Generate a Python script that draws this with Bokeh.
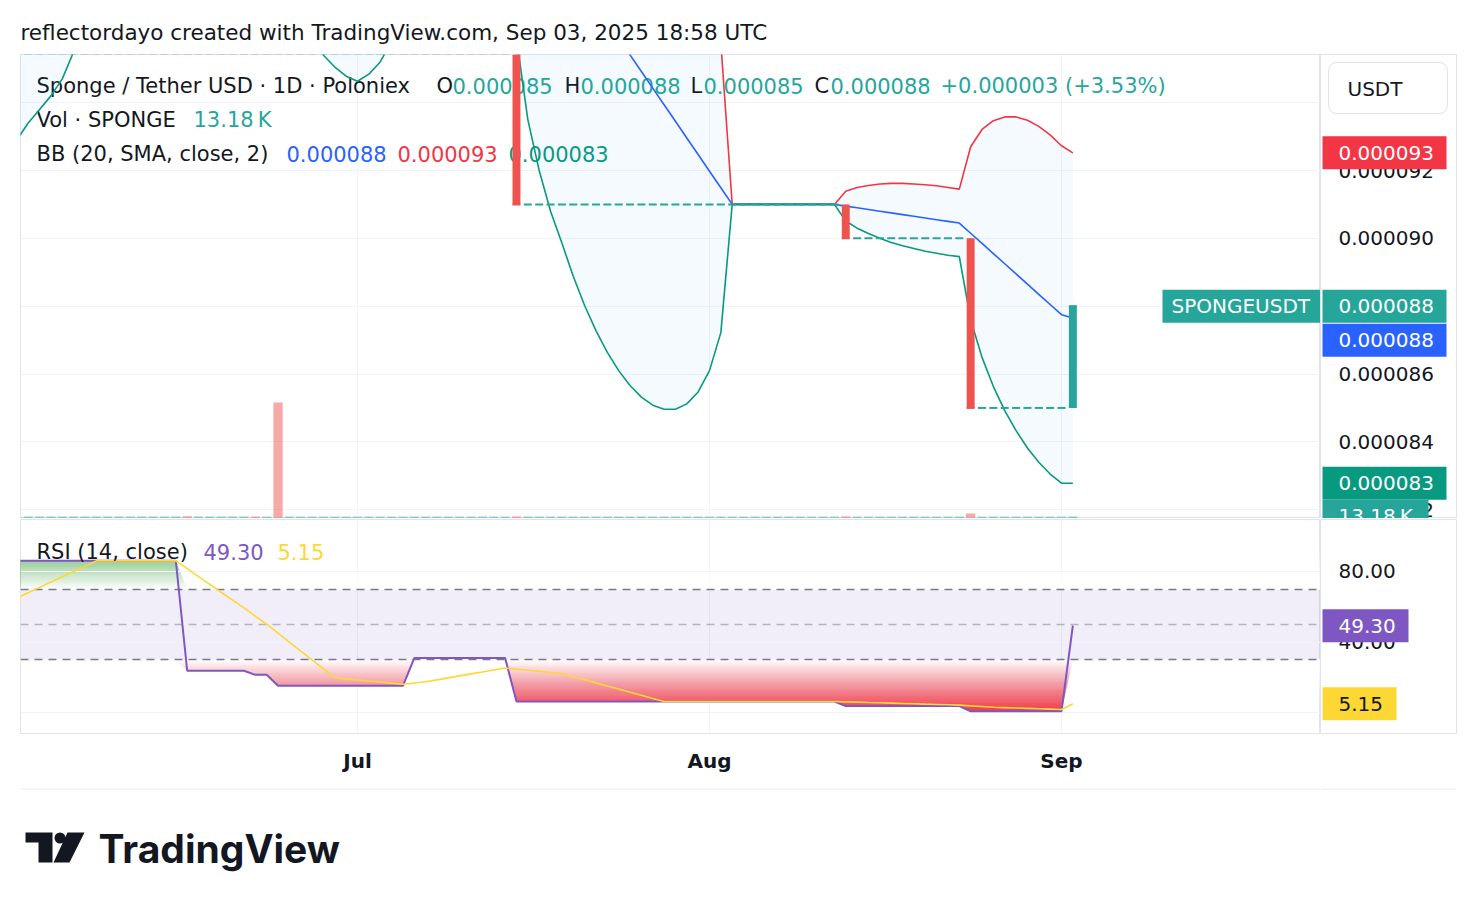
import numpy as np
import pandas as pd
from bokeh.plotting import figure
from bokeh.layouts import gridplot
from bokeh.models import (Range1d, FixedTicker, Label, ColumnDataSource,
                          DatetimeTickFormatter, Grid)
from bokeh.embed import file_html
from bokeh.resources import INLINE
from bokeh.core.properties import value

# ---------------------------------------------------------------- data
start_date = "2025-06-01"            # first daily bar
month_ticks = ["2025-07-01", "2025-08-01", "2025-09-01"]
price_ticks_e6 = [82, 84, 86, 88, 90, 92, 94]
rsi_ticks = [0, 40, 80]

# daily OHLC in units of 1e-6 USDT (bars before Jul 15 lie above the visible range)
open_e6 = [115.0]*16 + [105.0]*6 + [104.0]*2 + [100.3]*12 + [101.3]*9 + [91.0]*29 + [90.0]*11 + [85.0]*9
high_e6 = [115.0]*16 + [105.0]*6 + [104.0]*2 + [100.3]*11 + [101.3]*10 + [91.0]*29 + [90.0]*11 + [85.0]*8 + [88.0]
low_e6 = [115.0]*15 + [105.0]*6 + [104.0]*2 + [100.3]*13 + [101.3]*8 + [91.0]*29 + [90.0]*11 + [85.0]*10
close_e6 = [115.0]*15 + [105.0]*6 + [104.0]*2 + [100.3]*12 + [101.3]*9 + [91.0]*29 + [90.0]*11 + [85.0]*9 + [88.0]

# daily volume (SPONGE)
volume = ([12500]*15 + [14000] + [12500]*5 + [13000] + [12500] + [760000] + [12500]*20 + [14000]
          + [12500]*28 + [14000] + [12500]*10 + [33000] + [12500]*8 + [13180])

# Bollinger Bands (20, SMA, close, 2), units of 1e-6
bb_upper_e6 = [119.1, 121.0, 122.8, 124.4, 125.7, 126.5, 127.0, 127.2, 127.2, 126.9, 126.2, 125.1, 123.8, 122.0, 120.0,
               121.0, 121.5, 121.7, 121.7, 121.6, 121.4, 121.4, 121.2, 121.2, 120.7, 119.9, 119.9, 119.0, 117.95, 116.8,
               115.4, 113.8, 111.9, 109.8, 107.0, 105.8, 104.9, 104.2, 103.5, 102.9, 102.5, 102.2, 102.0, 101.8, 104.7,
               105.70, 106.33, 106.68, 106.84, 106.84, 106.72, 106.48, 106.14, 105.70, 105.16, 104.52, 103.78, 102.92,
               101.94, 100.80, 99.47, 97.86, 95.76, 91.0,
               91.0, 91.0, 91.0, 91.0, 91.0, 91.0, 91.0, 91.0, 91.0,
               91.39, 91.50, 91.56, 91.60, 91.62, 91.62, 91.60, 91.58, 91.55, 91.50, 91.45,
               92.70, 93.21, 93.47, 93.58, 93.58, 93.48, 93.30, 93.05, 92.73, 92.52]
bb_basis_e6 = [106.0, 107.2, 108.3, 109.3, 110.2, 111.0, 111.8, 112.5, 113.1, 113.6, 114.0, 114.3, 114.6, 114.8, 115.0,
               114.5, 114.0, 113.5, 113.0, 112.5, 112.0, 111.45, 110.9, 110.2, 109.5, 108.7, 107.96, 107.2, 106.5, 105.8,
               105.0, 104.3, 103.55, 102.8, 102.1, 101.85, 101.6, 101.4, 101.2, 101.05, 100.95, 100.9, 100.85, 100.8, 100.31,
               99.82, 99.33, 98.84, 98.35, 97.86, 97.37, 96.88, 96.39, 95.90, 95.41, 94.92, 94.43, 93.94, 93.45, 92.96,
               92.47, 91.98, 91.49, 91.0,
               91.0, 91.0, 91.0, 91.0, 91.0, 91.0, 91.0, 91.0, 91.0,
               90.95, 90.90, 90.85, 90.80, 90.75, 90.70, 90.65, 90.60, 90.55, 90.50, 90.45,
               90.15, 89.85, 89.55, 89.25, 88.95, 88.65, 88.35, 88.05, 87.75, 87.65]
bb_lower_e6 = [92.9, 93.4, 93.8, 94.2, 94.7, 95.5, 96.6, 97.8, 99.0, 100.3, 101.8, 103.5, 105.4, 107.6, 110.0,
               108.0, 106.5, 105.3, 104.3, 103.4, 102.6, 101.5, 100.6, 99.2, 98.3, 97.5, 96.0, 95.4, 95.05, 94.78,
               94.63, 94.84, 95.2, 95.8, 97.2, 97.9, 98.3, 98.6, 98.9, 99.2, 99.4, 99.6, 99.7, 99.8, 95.9,
               93.5, 92.0, 90.8, 89.86, 88.88, 88.02, 87.28, 86.64, 86.10, 85.66, 85.32, 85.08, 84.96, 84.96, 85.12,
               85.47, 86.10, 87.22, 91.0,
               91.0, 91.0, 91.0, 91.0, 91.0, 91.0, 91.0, 91.0, 91.0,
               90.51, 90.30, 90.14, 90.00, 89.88, 89.78, 89.70, 89.62, 89.56, 89.50, 89.46,
               87.60, 86.49, 85.63, 84.92, 84.33, 83.82, 83.40, 83.05, 82.78, 82.78]

# RSI (14, close) and its 14-bar moving average
rsi = [86.0]*15 + [23.8]*6 + [21.5]*2 + [15.3]*12 + [31.0]*9 + [6.4]*29 + [3.8]*11 + [0.84]*9 + [49.30]
rsi_ma = ([65.0, 68.0, 71.0, 74.0, 77.0, 80.0, 83.0] + [86.0]*8 +
          [81.56, 77.11, 72.67, 68.23, 63.79, 59.34, 54.74, 50.13, 45.08, 40.03, 34.98, 29.93, 24.88, 19.83,
           19.22, 18.61, 18.01, 17.40, 16.79, 16.19, 16.86, 17.54, 18.66, 19.79, 20.91, 22.03, 23.15, 24.27,
           25.39, 24.76, 24.12, 23.49, 22.85, 22.21, 20.46, 18.70, 16.94, 15.19, 13.43, 11.67, 9.91, 8.16]
          + [6.4]*16 +
          [6.21, 6.03, 5.84, 5.66, 5.47, 5.29, 5.10, 4.91, 4.73, 4.54, 4.36, 3.96, 3.56, 3.17, 2.95, 2.74,
           2.53, 2.32, 2.11, 1.90, 5.15])

# ---------------------------------------------------------------- styles
FONT = "DejaVu Sans"
DARK = "#131722"
UP, DOWN = "#26A69A", "#EF5350"
GRID_C, BORDER = "#F0F3FA", "#E0E3EB"
DAY_MS = 86400000
Y1_BOT, Y1_TOP = 81.74e-6, 95.42e-6      # visible price range
PANE1_PX = 464                            # price pane height in px
TAG_H = 33

E6 = 1e-6
dates = pd.date_range(start_date, periods=len(close_e6), freq="D")
o = np.array(open_e6) * E6
h = np.array(high_e6) * E6
l = np.array(low_e6) * E6
c = np.array(close_e6) * E6
up = c >= o
bb_u = np.array(bb_upper_e6) * E6
bb_m = np.array(bb_basis_e6) * E6
bb_l = np.array(bb_lower_e6) * E6
rsi_a = np.array(rsi)
month_ms = [pd.Timestamp(t).value // 10**6 for t in month_ticks]
fmt = lambda v: f"{v:.6f}"

x0 = pd.Timestamp(start_date)
xr = Range1d(start=x0 + pd.Timedelta(days=0.32), end=x0 + pd.Timedelta(days=114.81))

src = ColumnDataSource(dict(
    x=dates, top=np.maximum(o, c), bottom=np.minimum(o, c), high=h, low=l, close=c,
    color=[UP if u else DOWN for u in up], vol=volume))


def base_fig(width, height, **kw):
    f = figure(width=width, height=height, toolbar_location=None, output_backend="svg",
               background_fill_color="white", border_fill_color="white", **kw)
    return f


def add_text(fig, fb, X, Y, text, color=DARK, size="21px", level="underlay"):
    fig.add_layout(Label(x=X - 20, y=fb - Y, x_units="screen", y_units="screen", text=text,
                         text_color=color, text_font=FONT, text_font_size=size,
                         text_baseline="middle", text_align="left", level=level))


def scale_text(fig, ys, texts, **kw):
    fig.text(x=[18] * len(ys), y=ys, text=texts, text_font=value(FONT), text_font_size="20px",
             text_baseline="middle", text_align="left", text_color=DARK, **kw)


def scale_tag(fig, yv, text, bg, fg="white", right=126, y_range_name="default"):
    fig.rect(x=[(2 + right) / 2], y=[yv], width=right - 2, height=TAG_H, height_units="screen",
             fill_color=bg, line_color=None, y_range_name=y_range_name)
    fig.text(x=[18], y=[yv], text=[text], text_font=value(FONT), text_font_size="20px",
             text_baseline="middle", text_align="left", text_color=fg, y_range_name=y_range_name)


# ---------------------------------------------------------------- price pane
p1 = base_fig(1320, 518, x_range=xr, y_range=Range1d(Y1_BOT, Y1_TOP), x_axis_type="datetime",
              x_axis_location=None, y_axis_location=None,
              min_border_left=20, min_border_right=0, min_border_top=54, min_border_bottom=0)
p1.outline_line_color = BORDER
for g in list(p1.xgrid) + list(p1.ygrid):
    g.visible = False
p1.add_layout(Grid(dimension=0, ticker=FixedTicker(ticks=month_ms), grid_line_color=GRID_C))
p1.add_layout(Grid(dimension=1, ticker=FixedTicker(ticks=[t * E6 for t in price_ticks_e6]),
                   grid_line_color=GRID_C))
p1.title.text = "reflectordayo created with TradingView.com, Sep 03, 2025 18:58 UTC"
p1.title.align = "left"
p1.title.text_font = FONT
p1.title.text_font_size = "21.5px"
p1.title.text_font_style = "normal"
p1.title.text_color = DARK
p1.title.standoff = 19

vol_range = Range1d(0, max(volume) * 4.0)
p1.extra_y_ranges = {"vol": vol_range}
p1.extra_x_ranges = {"px": Range1d(20, 1320)}
p1.vbar(x="x", top="vol", bottom=0, width=0.82 * DAY_MS, source=src, y_range_name="vol",
        fill_color="color", fill_alpha=0.5, line_color=None)

p1.varea(x=dates, y1=bb_l, y2=bb_u, fill_color="#2196F3", fill_alpha=0.05)
p1.line(dates, bb_u, line_color="#F23645", line_width=1.6)
p1.line(dates, bb_m, line_color="#2962FF", line_width=1.6)
p1.line(dates, bb_l, line_color="#089981", line_width=1.6)

p1.segment(x0="x", y0="high", x1="x", y1="low", source=src, line_color="color", line_width=1)
p1.vbar(x="x", top="top", bottom="bottom", width=0.7 * DAY_MS, source=src,
        fill_color="color", line_color=None)
p1.scatter(x="x", y="close", source=src, marker="dash", size=8, line_color="color", line_width=2)

# symbol tag at the last price
p1.rect(x=[1241], y=[c[-1]], width=158, height=TAG_H, height_units="screen", fill_color=UP,
        line_color=None, x_range_name="px")
p1.text(x=[1171], y=[c[-1]], text=["SPONGEUSDT"], text_font=value(FONT), text_font_size="20px",
        text_baseline="middle", text_color="white", x_range_name="px")

FB1 = 518
add_text(p1, FB1, 36, 85, "Sponge / Tether USD \u00b7 1D \u00b7 Poloniex")
for lx, letter, vx, val in [(436, "O", 452, o[-1]), (564, "H", 580, h[-1]),
                            (690, "L", 703, l[-1]), (814, "C", 830, c[-1])]:
    add_text(p1, FB1, lx, 85, letter)
    add_text(p1, FB1, vx, 85, fmt(val), color=UP)
chg = c[-1] - o[-1]
add_text(p1, FB1, 940, 85, f"+{chg:.6f} (+{chg / o[-1] * 100:.2f}%)", color=UP)
add_text(p1, FB1, 36, 119, "Vol \u00b7 SPONGE")
add_text(p1, FB1, 193, 119, f"{volume[-1] / 1000:.2f}\u2009K", color=UP)
add_text(p1, FB1, 36, 153, "BB (20, SMA, close, 2)")
add_text(p1, FB1, 286, 153, fmt(bb_m[-1]), color="#2962FF")
add_text(p1, FB1, 397, 153, fmt(bb_u[-1]), color="#F23645")
add_text(p1, FB1, 508, 153, fmt(bb_l[-1]), color="#089981")

# price scale
p1a = base_fig(156, 518, x_range=Range1d(0, 136), y_range=p1.y_range,
               x_axis_location=None, y_axis_location=None,
               min_border_left=0, min_border_right=20, min_border_top=54, min_border_bottom=0)
p1a.outline_line_color = BORDER
p1a.grid.visible = False
p1a.extra_y_ranges = {"vol": vol_range, "px": Range1d(518, 54)}
scale_text(p1a, [t * E6 for t in price_ticks_e6], [fmt(t * E6) for t in price_ticks_e6])
p1a.quad(left=[8], right=[127], top=[62], bottom=[113], y_range_name="px", fill_color="white",
         line_color=BORDER, border_radius=8)
p1a.text(x=[27], y=[88], text=["USDT"], text_font=value(FONT), text_font_size="20px",
         text_baseline="middle", text_color=DARK, y_range_name="px")
px_per_unit = PANE1_PX / (Y1_TOP - Y1_BOT)
scale_tag(p1a, bb_u[-1], fmt(bb_u[-1]), "#F23645")
scale_tag(p1a, c[-1], fmt(c[-1]), UP)
scale_tag(p1a, c[-1] - (TAG_H + 1) / px_per_unit, fmt(bb_m[-1]), "#2962FF")
scale_tag(p1a, bb_l[-1], fmt(bb_l[-1]), "#089981")
scale_tag(p1a, volume[-1], f"{volume[-1] / 1000:.2f}\u2009K", UP, right=108, y_range_name="vol")

# ---------------------------------------------------------------- RSI pane
p2 = base_fig(1320, 270, x_range=xr, y_range=Range1d(-11.7, 109.4), x_axis_type="datetime",
              y_axis_location=None,
              min_border_left=20, min_border_right=0, min_border_top=1, min_border_bottom=55)
p2.outline_line_color = BORDER
for g in p2.ygrid:
    g.visible = False
p2.xaxis.ticker = FixedTicker(ticks=month_ms)
p2.xaxis.formatter = DatetimeTickFormatter(days="%b", months="%b", years="%b", hours="%b")
ax = p2.xaxis[0]
ax.axis_line_color = None
ax.major_tick_line_color = None
ax.minor_tick_line_color = None
ax.major_label_text_font = FONT
ax.major_label_text_font_size = "20px"
ax.major_label_text_font_style = "bold"
ax.major_label_text_color = DARK
ax.major_label_standoff = 9
p2.xgrid.grid_line_color = GRID_C

p2.hstrip(y0=[30], y1=[70], fill_color="#7E57C2", fill_alpha=0.1, line_color=None)
# gradient fills: opaque fill, then white layers that fade it toward the 30 / 70 levels
p2.varea(x=dates, y1=np.minimum(rsi_a, 30), y2=30, fill_color="#F23645")
p2.varea(x=dates, y1=70, y2=np.maximum(rsi_a, 70), fill_color="#4CAF50")
prev = 0.0
for k in range(30):
    W = (k + 0.5) / 30
    w = 1 - (1 - W) / (1 - prev)
    p2.hstrip(y0=[k], y1=[30], fill_color="white", fill_alpha=w, line_color=None)
    p2.hstrip(y0=[70], y1=[100 - k], fill_color="white", fill_alpha=w, line_color=None)
    prev = W
p2.hspan(y=rsi_ticks, line_color=GRID_C, line_width=1)
p2.hspan(y=[70, 30], line_color="#787B86", line_width=1.5, line_dash="8 6")
p2.hspan(y=[50], line_color="#787B86", line_alpha=0.5, line_width=1.5, line_dash="8 6")

p2.line(dates, rsi, line_color="#7E57C2", line_width=2)
p2.line(dates, rsi_ma, line_color="#FDD835", line_width=1.6)

FB2 = 733
add_text(p2, FB2, 36, 551, "RSI (14, close)", level="overlay")
add_text(p2, FB2, 203, 551, f"{rsi[-1]:.2f}", color="#7E57C2", level="overlay")
add_text(p2, FB2, 277, 551, f"{rsi_ma[-1]:.2f}", color="#FDD835", level="overlay")

p2a = base_fig(156, 270, x_range=Range1d(0, 136), y_range=p2.y_range,
               x_axis_location=None, y_axis_location=None,
               min_border_left=0, min_border_right=20, min_border_top=1, min_border_bottom=55)
p2a.outline_line_color = BORDER
p2a.grid.visible = False
scale_text(p2a, rsi_ticks, [f"{t:.2f}" for t in rsi_ticks])
scale_tag(p2a, rsi[-1], f"{rsi[-1]:.2f}", "#7E57C2", right=88)
scale_tag(p2a, rsi_ma[-1], f"{rsi_ma[-1]:.2f}", "#FDD835", fg=DARK, right=76)

# ---------------------------------------------------------------- footer / logo
LOGO_BAR = ([25, 52, 52, 38, 38, 25], [44, 44, 74, 74, 54, 54])
LOGO_SLASH = ([67, 84, 69, 53], [44, 44, 74, 74])
p3 = base_fig(1320, 120, x_range=Range1d(20, 1320), y_range=Range1d(120, 0),
              x_axis_location=None, y_axis_location=None,
              min_border_left=20, min_border_right=0, min_border_top=0, min_border_bottom=0)
p3.outline_line_color = None
p3.grid.visible = False
p3.segment(x0=[20], y0=[0.5], x1=[1320], y1=[0.5], line_color=BORDER, line_width=1)
p3.patches([LOGO_BAR[0], LOGO_SLASH[0]], [LOGO_BAR[1], LOGO_SLASH[1]],
           fill_color=DARK, line_color=None)
p3.scatter(x=[59.5], y=[49.5], size=11, fill_color=DARK, line_color=None)
p3.text(x=[98], y=[60], text=["TradingView"], text_font=value("Inter"), text_font_style="bold",
        text_font_size="39px", text_baseline="middle", text_color=DARK)

p3a = base_fig(156, 120, x_range=Range1d(0, 136), y_range=Range1d(120, 0),
               x_axis_location=None, y_axis_location=None,
               min_border_left=0, min_border_right=20, min_border_top=0, min_border_bottom=0)
p3a.outline_line_color = None
p3a.grid.visible = False
p3a.segment(x0=[0], y0=[0.5], x1=[136], y1=[0.5], line_color=BORDER, line_width=1)

layout = gridplot([[p1, p1a], [p2, p2a], [p3, p3a]], toolbar_location=None)
open("out.html", "w").write(file_html(layout, INLINE))
